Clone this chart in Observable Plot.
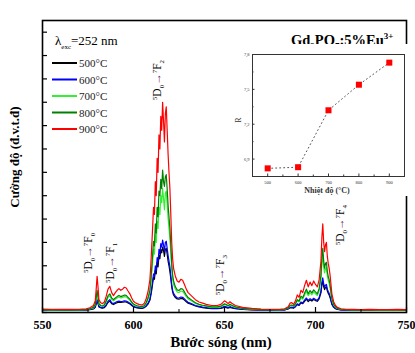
<!DOCTYPE html>
<html><head><meta charset="utf-8">
<script src="https://cdn.jsdelivr.net/npm/d3@7"></script>
<script src="https://cdn.jsdelivr.net/npm/@observablehq/plot@0.6"></script>
<style>
body{margin:0;background:#fff;}
#wrap{position:relative;width:415px;height:353px;overflow:hidden;}
#inset{position:absolute;left:230px;top:44px;}
</style></head><body><div id="wrap"><div id="main"></div><div id="inset"></div></div>
<script>
// ---- data ----
const wavelength = [550,555,560,565,570,574,576,578,579,579.5,
580,580.5,581,582,583,584,585,586,587,588,
589,590,591,592,593,594,595,596,597,598,
599,600,601,602,603,604,605,606,607,608,
609,609.5,610,610.5,611,611.5,612,612.5,613,613.5,
614,614.5,615,615.5,616,616.5,617,617.5,618,618.5,
619,619.5,620,620.5,621,621.5,622,623,624,625,
626,627,628,629,630,632,634,636,638,640,
643,646,648,649,650,651,652,653,654,656,
660,665,670,675,680,683,685,686,687,688,
689,690,691,692,693,694,695,696,697,698,
699,700,701,702,703,703.5,704,704.5,705,705.5,
706,706.5,707,707.5,708,709,710,711,712,714,
717,720,725,730,735,740,745,750];

const i500 = [.10,.10,.10,.09,.10,.10,.12,.15,.22,.36,
.50,.38,.24,.20,.19,.21,.30,.43,.49,.38,
.34,.39,.42,.44,.43,.44,.45,.45,.41,.37,
.30,.25,.22,.20,.19,.18,.18,.21,.27,.36,
.52,.72,.95,1.22,1.5,1.42,1.82,1.65,2.15,1.95,
2.45,2.3,2.7,2.55,2.8,2.65,2.4,2.7,2.75,2.5,
2.2,2.0,1.75,1.45,1.1,.88,.75,.64,.58,.57,
.60,.59,.53,.46,.40,.34,.28,.24,.21,.19,
.17,.17,.18,.20,.23,.21,.19,.22,.20,.16,
.13,.11,.10,.10,.10,.11,.15,.20,.21,.19,
.25,.34,.30,.41,.38,.48,.57,.47,.54,.49,
.56,.51,.48,.58,.84,1.18,1.35,1.1,.98,1.07,
1.1,.92,.82,.75,.64,.35,.22,.16,.13,.11,
.10,.09,.09,.09,.09,.09,.09,.09];

const i600 = [.11,.11,.10,.10,.10,.11,.13,.17,.25,.40,
.55,.42,.26,.22,.21,.24,.34,.48,.55,.42,
.38,.43,.47,.49,.47,.48,.50,.49,.45,.40,
.33,.27,.24,.22,.21,.20,.20,.23,.30,.40,
.58,.80,1.05,1.35,1.65,1.55,2.0,1.8,2.35,2.15,
2.7,2.5,2.95,2.8,3.1,2.9,2.6,3.0,3.05,2.75,
2.45,2.2,1.95,1.6,1.2,.95,.82,.70,.63,.62,
.66,.65,.58,.50,.44,.37,.30,.26,.23,.21,
.18,.18,.20,.23,.26,.24,.21,.25,.22,.18,
.14,.12,.11,.10,.10,.11,.16,.22,.23,.20,
.27,.37,.33,.45,.41,.53,.62,.52,.59,.54,
.61,.56,.52,.64,.92,1.3,1.48,1.22,1.08,1.18,
1.2,1.0,.90,.82,.70,.38,.24,.17,.14,.11,
.10,.10,.10,.10,.10,.09,.09,.09];

const i700 = [.12,.11,.11,.11,.11,.12,.15,.20,.32,.58,
.85,.62,.35,.28,.26,.30,.45,.65,.72,.56,
.50,.57,.62,.66,.62,.65,.68,.67,.60,.52,
.41,.33,.29,.27,.25,.24,.24,.28,.40,.57,
.85,1.2,1.7,2.15,2.7,2.5,3.35,3.0,3.9,3.6,
4.5,4.2,5.0,4.7,5.3,4.9,4.4,5.1,5.2,4.6,
4.05,3.6,3.15,2.55,1.85,1.45,1.2,1.0,.88,.85,
.92,.90,.80,.68,.58,.49,.39,.33,.29,.26,
.22,.22,.25,.29,.34,.31,.27,.32,.28,.22,
.17,.14,.12,.12,.11,.13,.19,.28,.30,.26,
.35,.50,.45,.63,.57,.75,.90,.72,.85,.76,
.88,.80,.73,.92,1.42,2.1,2.45,1.95,1.7,1.88,
1.92,1.56,1.38,1.25,1.05,.54,.32,.22,.17,.13,
.12,.11,.11,.11,.10,.10,.10,.10];

const i800 = [.12,.12,.11,.11,.12,.13,.16,.22,.35,.65,
.95,.70,.38,.30,.28,.33,.50,.72,.80,.62,
.55,.62,.68,.73,.68,.71,.75,.73,.65,.57,
.45,.36,.32,.29,.27,.26,.26,.30,.43,.63,
.95,1.35,1.9,2.45,3.05,2.85,3.8,3.4,4.5,4.1,
5.2,5.0,5.7,5.3,6.1,5.6,5.4,5.8,5.9,5.3,
4.6,4.1,3.6,2.9,2.1,1.6,1.35,1.1,.97,.94,
1.02,1.0,.88,.75,.64,.53,.42,.35,.31,.28,
.24,.24,.27,.32,.37,.34,.29,.35,.31,.24,
.18,.15,.13,.12,.12,.14,.20,.31,.32,.28,
.38,.55,.49,.70,.63,.83,1.0,.80,.94,.84,
.97,.88,.80,1.02,1.6,2.35,2.75,2.2,1.9,2.1,
2.15,1.75,1.55,1.4,1.18,.60,.35,.24,.18,.14,
.12,.12,.11,.11,.11,.11,.11,.10];

const i900 = [.15,.14,.13,.13,.14,.16,.20,.30,.50,1.0,
1.55,1.1,.55,.42,.38,.45,.70,1.0,1.12,.85,
.72,.85,.95,1.02,.95,1.0,1.08,1.05,.92,.80,
.62,.48,.42,.38,.35,.33,.33,.40,.60,.90,
1.4,2.0,2.8,3.6,4.5,4.2,5.6,5.0,6.6,6.0,
7.6,7.0,8.4,7.8,9.0,8.2,7.3,8.5,8.8,7.8,
6.8,6.0,5.3,4.2,3.0,2.3,1.9,1.55,1.35,1.3,
1.42,1.38,1.2,1.0,.85,.70,.55,.45,.40,.35,
.30,.30,.35,.42,.50,.45,.38,.46,.40,.30,
.22,.18,.15,.14,.14,.16,.25,.40,.42,.35,
.50,.75,.65,.95,.85,1.15,1.38,1.1,1.3,1.15,
1.35,1.2,1.1,1.4,2.2,3.2,3.8,3.0,2.6,2.9,
3.0,2.4,2.1,1.9,1.6,.80,.45,.30,.22,.16,
.14,.13,.12,.13,.12,.12,.13,.12];

const seriesNames = ["500°C","600°C","700°C","800°C","900°C"];
const seriesColors = ["#000000","#0000ff","#33ee33","#008000","#ff0000"];
const xTicks = [550,600,650,700,750];
const xMinorTicks = [575,625,675,725];
const yTicks = [0,1,2,3,4,5,6,7,8,9,10,11,12];

const temps = [500,600,700,800,900];
const ratioR = [6.82,6.83,7.32,7.54,7.73];
const insetXTicks = [500,600,700,800,900];
const insetXMinor = [550,650,750,850];
const insetYTicks = [6.9,7.2,7.5,7.8];
const insetYMinor = [7.05,7.35,7.65];

// peak annotations: final level index and position in data units
const peaks = [
  {lvl:"0", w:575.3, v:2.53},
  {lvl:"1", w:587.4, v:2.1},
  {lvl:"2", w:613.2, v:9.93},
  {lvl:"3", w:648.0, v:1.58},
  {lvl:"4", w:713.7, v:3.72}
];

// ---- build ----
const seriesVals = [i500,i600,i700,i800,i900];
const rows = [];
seriesNames.forEach((s,k)=>wavelength.forEach((w,i)=>rows.push({s, w, v: seriesVals[k][i]})));

const serif = "'Liberation Serif','Times New Roman',serif";
const W = 415, H = 353, ML = 42, MR = 9, MT = 20, MB = 41;
const innerW = W - ML - MR, innerH = H - MT - MB;

const main = Plot.plot({
  width:W, height:H, marginLeft:ML, marginRight:MR, marginTop:MT, marginBottom:MB,
  x:{domain:[550,750], axis:null}, y:{domain:[0,12.5], axis:null},
  color:{domain:seriesNames, range:seriesColors},
  style:{fontFamily:serif, background:"white", overflow:"visible", color:"black"},
  marks:[
    Plot.line(rows,{x:"w", y:"v", z:"s", stroke:"s", strokeWidth:1.2}),
    Plot.axisX({ticks:xTicks, tickSize:0, tickPadding:8, tickFormat:d=>String(d), fontWeight:"bold", fontSize:12, label:null}),
    Plot.tickX(xTicks,{x:d=>d, stroke:"black", strokeWidth:1.2, insetTop:innerH-5}),
    Plot.tickX(xMinorTicks,{x:d=>d, stroke:"black", strokeWidth:1, insetTop:innerH-3}),
    Plot.tickY(yTicks,{y:d=>d, stroke:"black", strokeWidth:1.2, insetRight:innerW-5}),
    Plot.frame({stroke:"black", strokeWidth:1.6})
  ]
});
document.getElementById("main").appendChild(main);

const svg = d3.select(main);
const X = v => main.scale("x").apply(v);
const Y = v => main.scale("y").apply(v);

// axis titles
svg.append("text").attr("x",221).attr("y",347).attr("text-anchor","middle")
  .attr("font-family",serif).attr("font-weight","bold").attr("font-size",15).text("Bước sóng (nm)");
svg.append("text").attr("transform","translate(19,157) rotate(-90)").attr("text-anchor","middle")
  .attr("font-family",serif).attr("font-weight","bold").attr("font-size",13).text("Cường độ (đ.v.t.đ)");

// excitation label
const ex = svg.append("text").attr("x",55).attr("y",45).attr("text-anchor","start").attr("font-family",serif).attr("font-size",13);
ex.append("tspan").text("λ");
ex.append("tspan").attr("dy",4).attr("font-size",7).text("exc");
ex.append("tspan").attr("dy",-4).text("=252 nm");

// legend
const lg = svg.append("g").attr("font-family",serif).attr("font-size",11).attr("text-anchor","start");
seriesNames.forEach((s,k)=>{
  const yy = 63 + k*16.5;
  lg.append("line").attr("x1",52).attr("x2",77).attr("y1",yy).attr("y2",yy)
    .attr("stroke",seriesColors[k]).attr("stroke-width",2);
  lg.append("text").attr("x",79).attr("y",yy+4).attr("fill","#222").text(s);
});

// title
const tt = svg.append("text").attr("x",291).attr("y",45).attr("text-anchor","start").attr("font-family",serif)
  .attr("font-weight","bold").attr("font-size",14.5);
tt.append("tspan").text("Gd");
tt.append("tspan").attr("dy",4).attr("font-size",9).text("3");
tt.append("tspan").attr("dy",-4).text("PO");
tt.append("tspan").attr("dy",4).attr("font-size",9).text("7");
tt.append("tspan").attr("dy",-4).text(":5%Eu");
tt.append("tspan").attr("dy",-6).attr("font-size",9).text("3+");

// peak annotations
peaks.forEach(p=>{
  const t = svg.append("text")
    .attr("transform",`translate(${X(p.w)+4},${Y(p.v)}) rotate(-90)`)
    .attr("text-anchor","middle").attr("font-family",serif).attr("font-size",11.5);
  t.append("tspan").attr("dy",-4).attr("font-size",7).text("5");
  t.append("tspan").attr("dy",4).text("D");
  t.append("tspan").attr("dy",3).attr("font-size",7).text("0");
  t.append("tspan").attr("dy",-3).attr("fill","#6a1b6a").text("→");
  t.append("tspan").attr("dy",-4).attr("font-size",7).text("7");
  t.append("tspan").attr("dy",4).text("F");
  t.append("tspan").attr("dy",3).attr("font-size",7).text(p.lvl);
});

// ---- inset ----
const pts = temps.map((t,i)=>({t, r:ratioR[i]}));
const IW = 178, IH = 152, IML = 22, IMR = 4, IMT = 10, IMB = 20;
const iInnerW = IW - IML - IMR, iInnerH = IH - IMT - IMB;
const inset = Plot.plot({
  width:IW, height:IH, marginLeft:IML, marginRight:IMR, marginTop:IMT, marginBottom:IMB,
  x:{domain:[450,950]}, y:{domain:[6.75,7.8]},
  style:{fontFamily:serif, background:"white", overflow:"visible", color:"#333"},
  marks:[
    Plot.line(pts,{x:"t", y:"r", stroke:"#555", strokeDasharray:"1,3", strokeWidth:1}),
    Plot.dot(pts,{x:"t", y:"r", symbol:"square", fill:"#ff0000", r:3.4}),
    Plot.axisX({ticks:insetXTicks, tickSize:0, tickPadding:4, tickFormat:d=>String(d), fontSize:4.5, label:null}),
    Plot.tickX(insetXTicks,{x:d=>d, stroke:"#333", insetTop:iInnerH-2.5}),
    Plot.tickX(insetXMinor,{x:d=>d, stroke:"#333", insetTop:iInnerH-1.5}),
    Plot.axisY({ticks:insetYTicks, tickSize:0, tickPadding:3, tickFormat:d=>d.toFixed(1).replace(".",","), fontSize:4.5, label:null}),
    Plot.tickY(insetYTicks,{y:d=>d, stroke:"#333", insetRight:iInnerW-2.5}),
    Plot.tickY(insetYMinor,{y:d=>d, stroke:"#333", insetRight:iInnerW-1.5}),
    Plot.frame({stroke:"#333"})
  ]
});
document.getElementById("inset").appendChild(inset);
const isvg = d3.select(inset);
isvg.append("text").attr("x",97).attr("y",149).attr("text-anchor","middle")
  .attr("font-family",serif).attr("font-weight","bold").attr("font-size",8).text("Nhiệt độ (°C)");
isvg.append("text").attr("transform","translate(11,76) rotate(-90)").attr("text-anchor","middle")
  .attr("font-family",serif).attr("font-size",8).text("R");
</script></body></html>
